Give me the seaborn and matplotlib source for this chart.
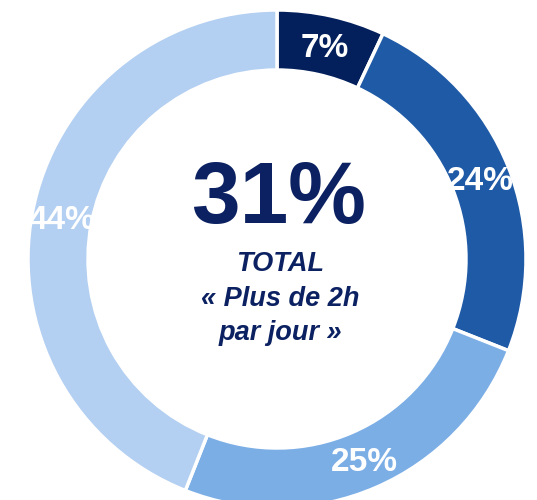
import matplotlib
matplotlib.use("Agg")
import matplotlib.pyplot as plt
import seaborn as sns
import numpy as np

categories = ["A", "B", "C", "D"]
values = [7, 24, 25, 44]
value_labels = ["7%", "24%", "25%", "44%"]
colors = ["#03205c", "#1f5aa6", "#7caee6", "#b3cff1"]
total_label = "31%"
subtitle_lines = ["TOTAL", "« Plus de 2h", "par jour »"]

sns.set_theme(style="white")
plt.rcParams["font.family"] = ["Liberation Sans", "DejaVu Sans"]

fig = plt.figure(figsize=(5.37, 5.00), dpi=100)
ax = fig.add_axes([0, 0, 1, 1])

width = 60 / 249
wedges, _ = ax.pie(values, colors=colors, startangle=90, counterclock=False,
                   radius=1.0, wedgeprops=dict(width=width, edgecolor="white", linewidth=2.5))

ax.set_xlim(-277 / 249, 260 / 249)
ax.set_ylim(-241 / 249, 259 / 249)
ax.set_aspect("equal")
ax.axis("off")

cum = np.cumsum([0] + values)
tot = sum(values)
r_lab = 1.0 - width / 2
for i, lab in enumerate(value_labels):
    mid = (cum[i] + cum[i + 1]) / 2 / tot * 2 * np.pi
    x = r_lab * np.sin(mid)
    y = r_lab * np.cos(mid) - 3 / 249
    ax.text(x, y, lab, ha="center", va="center", color="white",
            fontsize=24, fontweight="bold")

navy = "#0b2161"
ax.text(1 / 249, 58 / 249, total_label, ha="center", va="center", color=navy,
        fontsize=63, fontweight="bold")
for j, line in enumerate(subtitle_lines):
    ax.text(3 / 249, (259 - 264 - 34.5 * j) / 249, line, ha="center", va="center",
            color=navy, fontsize=19.5, fontweight="bold", fontstyle="italic")

fig.savefig("out.png", dpi=100, facecolor="white")
